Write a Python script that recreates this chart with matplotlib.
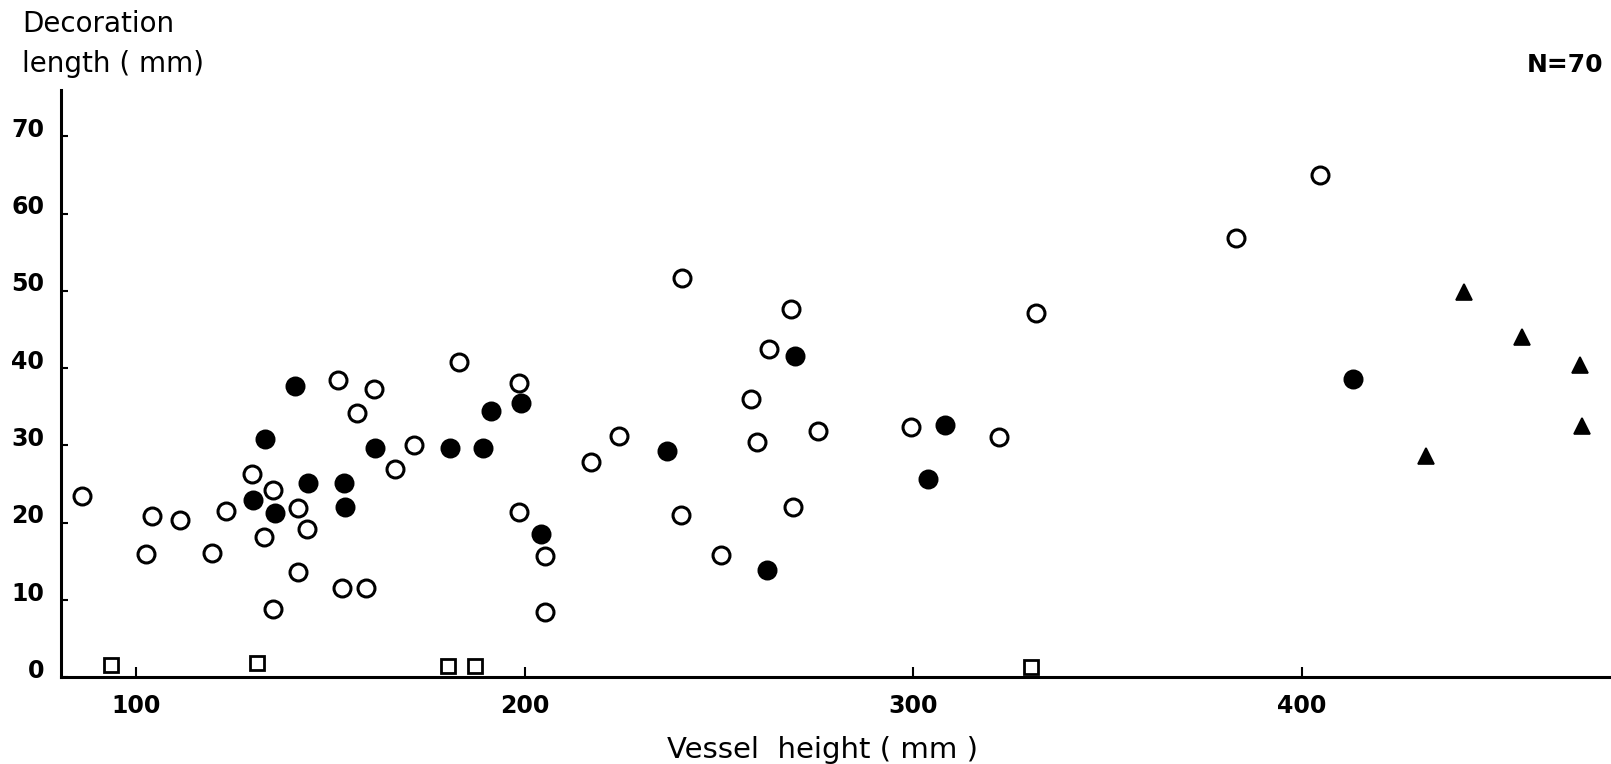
import matplotlib
matplotlib.use('Agg')
import matplotlib.pyplot as plt
from matplotlib.transforms import ScaledTranslation

# vessel height (mm) / decoration length (mm)
open_x = [86.1, 104.0, 102.5, 111.3, 123.1, 119.6, 129.8, 135.3, 132.8, 141.6,
          144.0, 141.6, 135.3, 153.1, 159.1, 156.8, 161.1, 151.9, 166.5, 171.6,
          198.5, 198.6, 205.1, 205.1, 183.1, 217.1, 224.3, 240.2, 250.4, 258.2,
          259.8, 269.1, 275.5, 299.5, 322.0, 240.4, 268.4, 262.9, 331.5, 383.1,
          404.5]
open_y = [23.4, 20.9, 16.0, 20.3, 21.5, 16.1, 26.3, 24.2, 18.2, 21.9,
          19.2, 13.6, 8.8, 11.5, 11.5, 34.2, 37.3, 38.5, 27.0, 30.0,
          38.1, 21.4, 15.7, 8.4, 40.8, 27.9, 31.2, 21.0, 15.8, 36.0,
          30.5, 22.1, 31.9, 32.4, 31.1, 51.7, 47.6, 42.5, 47.1, 56.9,
          65.0]

filled_x = [140.9, 133.2, 130.0, 135.8, 144.1, 153.6, 153.7, 161.4, 180.8, 189.3,
            191.2, 199.0, 204.3, 236.5, 269.6, 262.3, 303.7, 308.1, 413.0]
filled_y = [37.7, 30.8, 23.0, 21.2, 25.2, 25.2, 22.1, 29.7, 29.7, 29.7,
            34.5, 35.5, 18.6, 29.3, 41.6, 13.9, 25.7, 32.7, 38.6]

square_x = [93.6, 131.1, 180.3, 187.1, 330.3]
square_y = [1.6, 1.8, 1.4, 1.4, 1.3]

tri_x = [441.6, 456.7, 471.6, 472.1, 431.8]
tri_y = [49.9, 44.0, 40.4, 32.5, 28.7]

x_ticks = [100, 200, 300, 400]
y_ticks = [0, 10, 20, 30, 40, 50, 60, 70]

fig = plt.figure(figsize=(16.11, 7.64), dpi=100)
ax = fig.add_axes([0.0377, 0.1135, 0.9623, 0.7687])

ax.plot(open_x, open_y, 'o', ls='none', ms=12.2, mfc='white', mec='black', mew=2.2)
ax.plot(filled_x, filled_y, 'o', ls='none', ms=12.2, mfc='black', mec='black', mew=2.2)
ax.plot(square_x, square_y, 's', ls='none', ms=9.4, mfc='white', mec='black', mew=2.0,
        clip_on=False)
ax.plot(tri_x, tri_y, '^', ls='none', ms=11, mfc='black', mec='black', mew=1.2,
        clip_on=False)

ax.set_xlim(80.6, 479.5)
ax.set_ylim(0, 76)

for side in ['top', 'right']:
    ax.spines[side].set_visible(False)
for side in ['left', 'bottom']:
    ax.spines[side].set_linewidth(2.2)

ax.set_xticks(x_ticks)
ax.set_yticks(y_ticks)
ax.tick_params(axis='x', direction='in', length=7, width=1.5, pad=12, labelsize=17)
ax.tick_params(axis='y', direction='in', length=5, width=1.5, pad=12, labelsize=17)
for lab in ax.get_xticklabels() + ax.get_yticklabels():
    lab.set_fontweight('bold')

# y labels sit a little above their ticks in the original
shift = ScaledTranslation(0, 9 / 100, fig.dpi_scale_trans)
for lab in ax.get_yticklabels():
    lab.set_transform(lab.get_transform() + shift)

fig.text(22 / 1611, 1 - 32 / 764, 'Decoration', fontsize=20, ha='left', va='baseline')
fig.text(22 / 1611, 1 - 72 / 764, 'length ( mm)', fontsize=20, ha='left', va='baseline')
fig.text(1603 / 1611, 1 - 72 / 764, 'N=70', fontsize=18, fontweight='bold',
         ha='right', va='baseline')
fig.text(823 / 1611, 1 - 750 / 764, 'Vessel  height ( mm )', fontsize=21,
         ha='center', va='center')

fig.savefig('out.png', dpi=100)
plt.close()
